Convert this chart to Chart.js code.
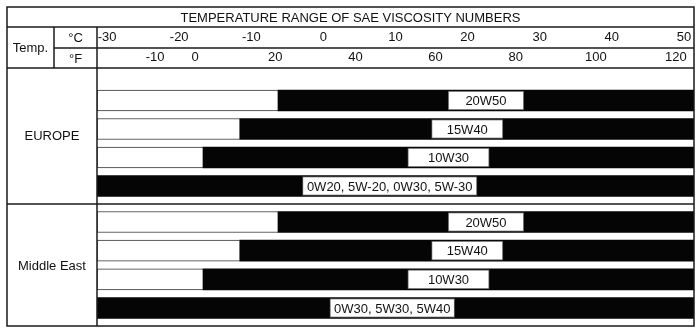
<!DOCTYPE html>
<html>
<head>
<meta charset="utf-8">
<title>Temperature range of SAE viscosity numbers</title>
<script src="https://cdn.jsdelivr.net/npm/chart.js@4.4.1/dist/chart.umd.min.js"></script>
<style>
  body { margin: 0; background: #fff; }
  #wrap { position: relative; width: 700px; height: 333px; }
  #wrap canvas { position: absolute; left: 0; top: 0; }
</style>
</head>
<body>
<div id="wrap">
  <canvas id="meChart" width="700" height="333"></canvas>
  <canvas id="euChart" width="700" height="333"></canvas>
</div>
<script>
// temperature axis (°C), with the °F scale hung off the same range
const cMin = -31.4;
const cMax = 51.4;
const cTicks = [-30, -20, -10, 0, 10, 20, 30, 40, 50];
const fTicks = [-10, 0, 20, 40, 60, 80, 100, 120];

const regions = ['EUROPE', 'Middle East'];

// lowest ambient temp (°C) each grade is good for; null = whole range
const euGrades = ['20W50', '15W40', '10W30', '0W20, 5W-20, 0W30, 5W-30'];
const euLowest = [-6.3, -11.6, -16.7, null];
const euTagFrom = [17.3, 15.0, 11.7, -2.9];
const euTagTo = [27.8, 24.9, 23.0, 21.3];

const meGrades = ['20W50', '15W40', '10W30', '0W30, 5W30, 5W40'];
const meLowest = [-6.3, -11.6, -16.7, null];
const meTagFrom = [17.3, 15.0, 11.7, 0.9];
const meTagTo = [27.8, 24.9, 23.0, 18.2];

const FONT = "'Liberation Sans', Arial, Helvetica, sans-serif";
Chart.defaults.font.family = FONT;
Chart.defaults.font.size = 13;
Chart.defaults.color = '#111';

const toF = c => c * 1.8 + 32;

function rowData(grades, lowest, tagFrom, tagTo) {
  return {
    labels: grades,
    datasets: [
      { // white name tags, drawn on top
        label: 'grade',
        data: grades.map((g, i) => [tagFrom[i], tagTo[i]]),
        backgroundColor: '#fff',
        borderColor: '#555',
        borderWidth: 1,
        borderSkipped: false,
        barThickness: 19,
        grouped: false
      },
      {
        label: 'usable',
        data: lowest.map(t => [t === null ? cMin : t, cMax]),
        backgroundColor: '#050505',
        borderWidth: 0,
        barThickness: 21,
        grouped: false
      },
      {
        label: 'too cold',
        data: lowest.map(t => t === null ? null : [cMin, t]),
        backgroundColor: '#fff',
        borderColor: '#333',
        borderWidth: 1,
        barThickness: 21,
        grouped: false
      }
    ]
  };
}

// grade names inside the white tags
const gradeText = {
  id: 'gradeText',
  afterDatasetsDraw(chart) {
    const ctx = chart.ctx;
    ctx.save();
    ctx.font = '13px ' + FONT;
    ctx.fillStyle = '#111';
    ctx.textAlign = 'center';
    ctx.textBaseline = 'middle';
    chart.getDatasetMeta(0).data.forEach((bar, i) => {
      const p = bar.getCenterPoint();
      ctx.fillText(chart.data.labels[i], p.x, p.y + 1);
    });
    ctx.restore();
  }
};

// table rules, header cells and region names
const tableFrame = {
  id: 'tableFrame',
  afterDraw(chart) {
    const ctx = chart.ctx;
    const L = 7, R = 694, T = 7, B = 326;
    const titleB = 27, unitMid = 48, headB = 68, split = 204;
    const col1 = 54, col2 = 97;
    ctx.save();
    ctx.strokeStyle = '#1a1a1a';
    ctx.lineWidth = 1.5;
    const line = (x1, y1, x2, y2) => {
      ctx.beginPath(); ctx.moveTo(x1, y1); ctx.lineTo(x2, y2); ctx.stroke();
    };
    ctx.strokeRect(L, T, R - L, B - T);
    line(L, titleB, R, titleB);
    line(col1, unitMid, R, unitMid);
    line(L, headB, R, headB);
    line(L, split, R, split);
    line(col1, titleB, col1, headB);
    line(col2, titleB, col2, B);

    ctx.fillStyle = '#111';
    ctx.font = '13px ' + FONT;
    ctx.textAlign = 'center';
    ctx.textBaseline = 'middle';
    ctx.fillText('TEMPERATURE RANGE OF SAE VISCOSITY NUMBERS', (L + R) / 2, (T + titleB) / 2 + 1);
    ctx.fillText('Temp.', (L + col1) / 2, (titleB + headB) / 2 + 1);
    ctx.fillText('°C', (col1 + col2) / 2, (titleB + unitMid) / 2 + 1);
    ctx.fillText('°F', (col1 + col2) / 2, (unitMid + headB) / 2 + 1);
    ctx.fillText(regions[0], (L + col2) / 2, (headB + split) / 2);
    ctx.fillText(regions[1], (L + col2) / 2, (split + B) / 2 + 1);
    ctx.restore();
  }
};

const common = {
  indexAxis: 'y',
  responsive: false,
  animation: false,
  events: [],
  plugins: { legend: { display: false }, tooltip: { enabled: false } }
};

// Middle East rows (canvas underneath)
new Chart('meChart', {
  type: 'bar',
  data: rowData(meGrades, meLowest, meTagFrom, meTagTo),
  options: Object.assign({}, common, {
    layout: { padding: { left: 97, right: 6, top: 207.67, bottom: 10.67 } },
    scales: {
      x: { type: 'linear', display: false, min: cMin, max: cMax },
      y: { display: false, offset: true }
    }
  }),
  plugins: [gradeText]
});

// header scales + Europe rows
new Chart('euChart', {
  type: 'bar',
  data: rowData(euGrades, euLowest, euTagFrom, euTagTo),
  options: Object.assign({}, common, {
    layout: { padding: { left: 97, right: 6, top: 27, bottom: 132.75 } },
    scales: {
      x: {
        type: 'linear', position: 'top', weight: 1,
        min: cMin, max: cMax, bounds: 'data',
        grid: { display: false, drawTicks: false },
        border: { display: false },
        ticks: { padding: 3 },
        afterBuildTicks: s => { s.ticks = cTicks.map(v => ({ value: v })); },
        afterFit: s => { s.height = 21; }
      },
      xF: {
        type: 'linear', axis: 'x', position: 'top', weight: 0,
        min: toF(cMin), max: toF(cMax), bounds: 'data',
        grid: { display: false, drawTicks: true, tickLength: 18 },
        border: { display: false },
        ticks: { padding: 3 },
        afterBuildTicks: s => { s.ticks = fTicks.map(v => ({ value: v })); },
        afterFit: s => { s.height = 38.25; }
      },
      y: { display: false, offset: true }
    }
  }),
  plugins: [gradeText, tableFrame]
});
</script>
</body>
</html>
